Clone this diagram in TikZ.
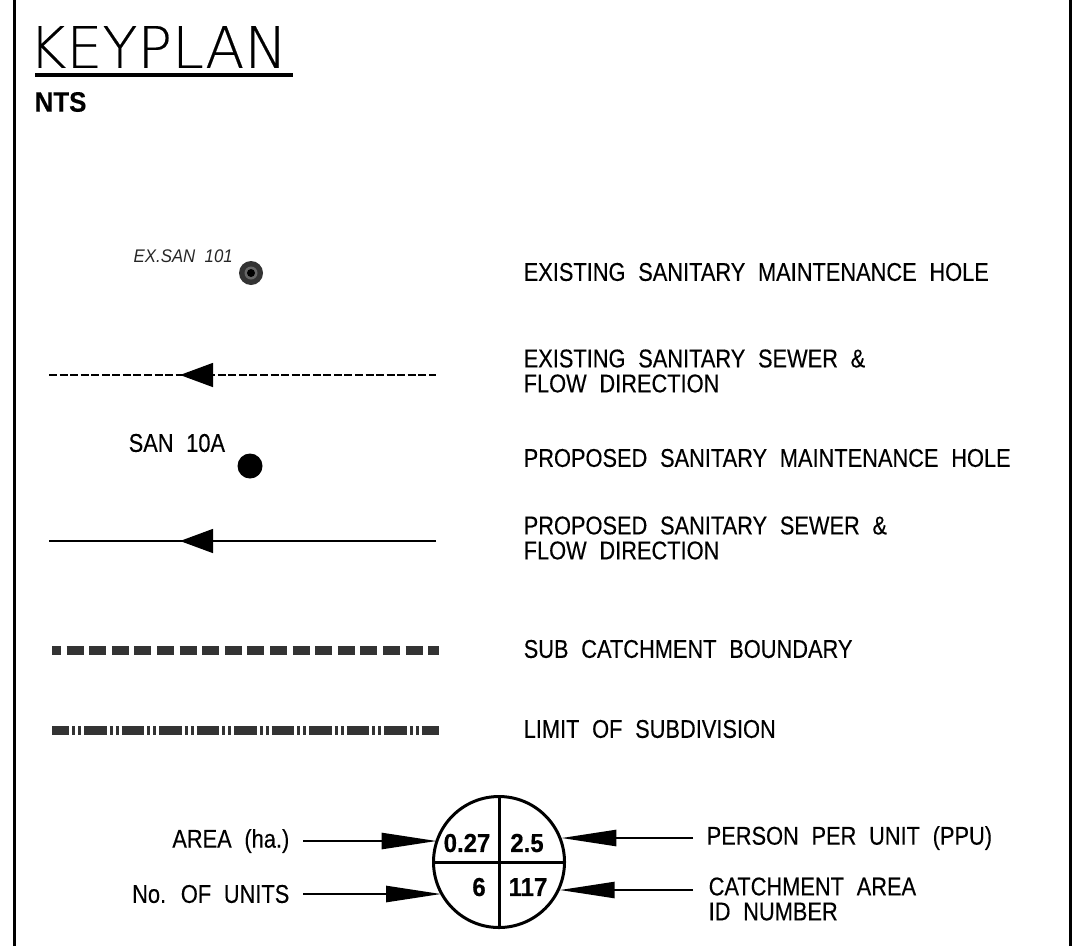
\documentclass[tikz,border=0pt]{standalone}
\usepackage{fontspec}
\usetikzlibrary{arrows.meta}
\newfontfamily\cadfont[WordSpace=2.1,FakeStretch=.85,FakeBold=.25]{Liberation Sans}
\newfontfamily\cadthin[WordSpace=2,FakeStretch=.92]{Liberation Sans}
\newfontfamily\cadbold[WordSpace=2,FakeStretch=.92,FakeBold=.4]{Liberation Sans Bold}
\newfontfamily\titlefont[FakeBold=.3]{DejaVu Sans ExtraLight}
\tikzset{
  legendtext/.style={anchor=west, inner sep=0, align=left, font=\cadfont\fontsize{7.3}{7.1}\selectfont},
  boldtext/.style={inner sep=0, font=\cadbold\fontsize{7.4}{7.1}\selectfont},
  hole/.style={circle, fill=black, inner sep=0, minimum size=.25cm},
  sewer/.style={black, line width=.013cm},
  flowhead/.style={-{Triangle[length=.33cm,width=.24cm]}},
  leader/.style={black, line width=.025cm, -{Triangle[length=.55cm,width=.16cm]}},
  catch/.style={black!80, line width=.09cm}
}
\begin{document}
\begin{tikzpicture}
\useasboundingbox (0,0) rectangle (10.72,9.46);
\draw[black, line width=.03cm] (.14,0)--(.14,9.46);
\draw[black, line width=.03cm] (10.705,0)--(10.705,9.46);

\node[inner sep=0, anchor=west, font=\titlefont\fontsize{16.3}{18}\selectfont] (title) at (.28,8.99) {KEYPLAN};
\draw[black, line width=.035cm] (.35,8.71) --++(2.58,0);
\node[boldtext, anchor=west, font=\cadbold\fontsize{8}{9}\selectfont] (nts) at (.34,8.44) {NTS};

\foreach \name/\y/\txt in {exmh/6.74/EXISTING SANITARY MAINTENANCE HOLE,
                           exsew/5.75/EXISTING SANITARY SEWER \&\\FLOW DIRECTION,
                           prmh/4.88/PROPOSED SANITARY MAINTENANCE HOLE,
                           prsew/4.08/PROPOSED SANITARY SEWER \&\\FLOW DIRECTION,
                           subc/2.97/SUB CATCHMENT BOUNDARY,
                           limit/2.17/LIMIT OF SUBDIVISION}
  \node[legendtext] (\name) at (5.23,\y) {\txt};

\node[hole, fill=black!80, minimum size=.24cm] (exhole) at (2.51,6.73) {};
\node[circle, fill=black!60, inner sep=0, minimum size=.13cm] (exring) at (exhole) {};
\node[circle, fill=black, inner sep=0, minimum size=.08cm] (excore) at (exhole) {};
\node[anchor=west, inner sep=0, font=\cadthin\itshape\fontsize{5.2}{6}\selectfont, black!85] (exlabel) at (1.33,6.90) {EX.SAN 101};
\node[hole] (prhole) at (2.50,4.80) {};
\node[legendtext] (prlabel) at (1.28,5.03) {SAN 10A};

\coordinate (exright) at (4.36,5.71);
\coordinate (exleft) at (.49,5.71);
\draw[sewer, dash pattern=on .08cm off .0255cm] (exleft) -- (exright);
\draw[black, flowhead] (2.13,5.71) -- (1.80,5.71);

\coordinate (prright) at (4.36,4.05);
\coordinate (prleft) at (.49,4.05);
\draw[black, line width=.025cm] (prright) -- (prleft);
\draw[black, flowhead] (2.13,4.05) -- (1.80,4.05);

\draw[catch, dash pattern=on .17cm off .056cm, dash phase=.08cm] (.52,2.96) -- (4.39,2.96);
\draw[catch, dash pattern=on .225cm off .03cm on .03cm off .03cm on .03cm off .03cm, dash phase=.055cm] (.52,2.16) -- (4.39,2.16);

\node[circle, draw=black, line width=.03cm, inner sep=0, outer sep=0, minimum size=1.31cm] (bubble) at (4.99,.84) {};
\draw[black, line width=.03cm] (bubble.north) -- (bubble.south);
\draw[black, line width=.03cm] (bubble.west) -- (bubble.east);
\node[boldtext] (area) at (4.67,1.03) {0.27};
\node[boldtext] (ppu) at (5.27,1.03) {2.5};
\node[boldtext] (units) at (4.79,.59) {6};
\node[boldtext] (idnum) at (5.28,.59) {117};

\node[legendtext, anchor=east, inner xsep=.13cm] (arealabel) at (3.03,1.05) {AREA (ha.)};
\node[legendtext, anchor=east, inner xsep=.13cm] (unitslabel) at (3.03,.52) {No. OF UNITS};
\node[legendtext, inner xsep=.13cm] (ppulabel) at (6.93,1.08) {PERSON PER UNIT (PPU)};
\node[legendtext, inner xsep=.15cm] (idlabel) at (6.93,.47) {CATCHMENT AREA\\ID NUMBER};
\coordinate (idstart) at (6.93,.56);

\draw[leader] (arealabel.east) -- (arealabel.east -| bubble.162);
\draw[leader] (unitslabel.east) -- (unitslabel.east -| bubble.208);
\draw[leader] (ppulabel.west) -- (ppulabel.west -| bubble.18);
\draw[leader] (idstart) -- (idstart -| bubble.-22);
\end{tikzpicture}
\end{document}
